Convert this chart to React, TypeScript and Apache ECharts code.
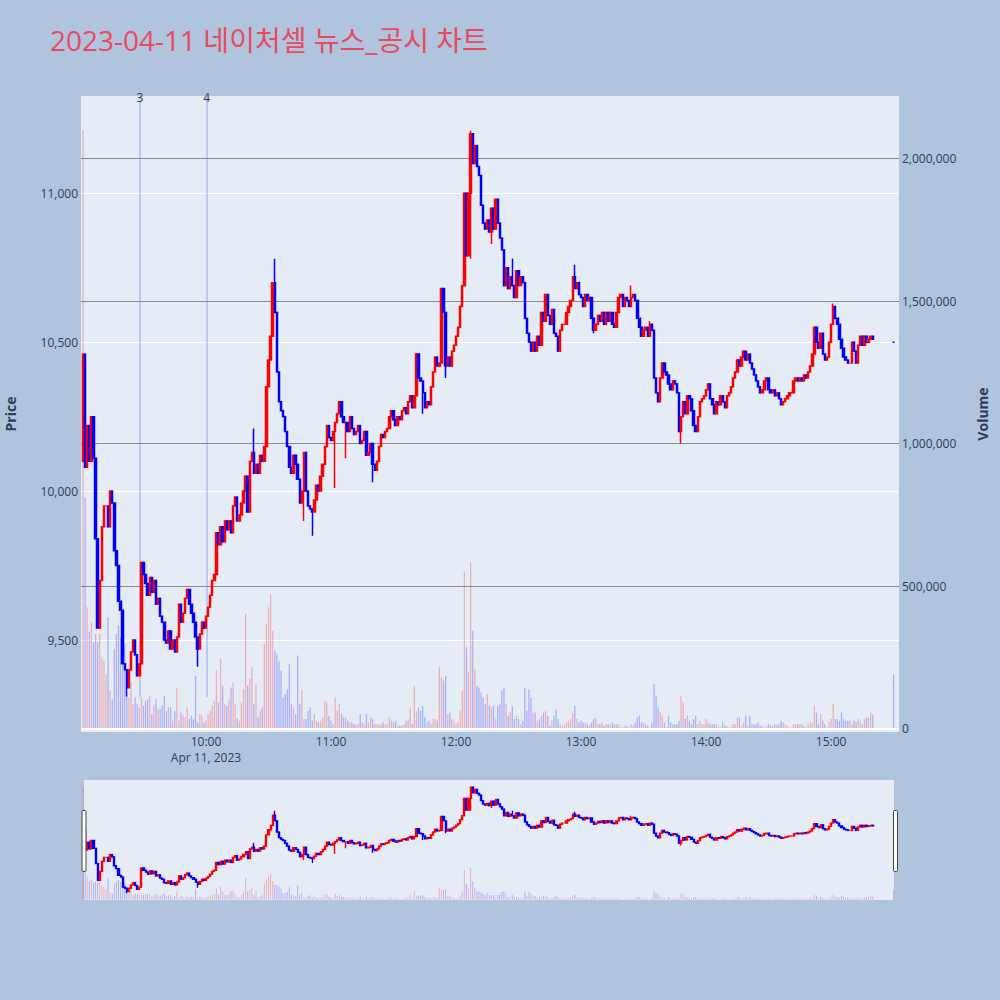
import React, { useEffect, useRef } from "react";
import * as echarts from "echarts";

const TITLE = "2023-04-11 네이처셀 뉴스_공시 차트";
const DATE_LABEL = "Apr 11, 2023";
const SESSION_START_HOUR = 9;

// first minute candle (09:01) opening price
const firstOpen = 10100;

// minute closes 09:01 .. 15:20
const closes = [
  10460, 10080, 10220, 10100, 10250, 10110, 9840, 9540, 9700, 9880,
  9950, 9950, 9880, 10000, 9960, 9800, 9750, 9630, 9600, 9420,
  9400, 9340, 9400, 9460, 9500, 9450, 9380, 9420, 9760, 9720,
  9690, 9650, 9710, 9660, 9700, 9620, 9640, 9580, 9560, 9500,
  9490, 9530, 9470, 9500, 9460, 9510, 9620, 9560, 9590, 9640,
  9670, 9620, 9590, 9560, 9510, 9470, 9520, 9560, 9540, 9580,
  9610, 9650, 9700, 9720, 9860, 9820, 9880, 9830, 9900, 9870,
  9900, 9860, 9950, 9980, 9900, 9920, 9960, 10000, 10050, 9930,
  10100, 10130, 10060, 10090, 10060, 10120, 10100, 10150, 10350, 10440,
  10520, 10700, 10600, 10400, 10300, 10270, 10250, 10200, 10150, 10080,
  10060, 10120, 10090, 10040, 9960, 10000, 10130, 10000, 9950, 9940,
  9930, 9970, 10020, 10000, 10050, 10090, 10150, 10220, 10180, 10170,
  10200, 10230, 10260, 10300, 10250, 10230, 10230, 10200, 10250, 10210,
  10190, 10200, 10220, 10160, 10170, 10200, 10120, 10130, 10160, 10090,
  10070, 10100, 10150, 10190, 10180, 10200, 10210, 10250, 10270, 10240,
  10220, 10250, 10240, 10270, 10280, 10260, 10300, 10320, 10280, 10320,
  10460, 10380, 10370, 10330, 10280, 10300, 10290, 10350, 10400, 10450,
  10420, 10430, 10680, 10600, 10420, 10450, 10420, 10470, 10490, 10520,
  10550, 10620, 10690, 11000, 10790, 11000, 11200, 11100, 11160, 11090,
  11060, 10960, 10900, 10880, 10910, 10870, 10950, 10880, 10980, 10900,
  10850, 10810, 10690, 10750, 10680, 10720, 10690, 10650, 10740, 10690,
  10720, 10700, 10580, 10530, 10500, 10470, 10500, 10470, 10520, 10490,
  10600, 10570, 10660, 10590, 10560, 10610, 10530, 10520, 10470, 10540,
  10560, 10560, 10600, 10620, 10640, 10720, 10680, 10700, 10660, 10650,
  10620, 10660, 10640, 10650, 10580, 10540, 10560, 10590, 10570, 10600,
  10560, 10600, 10570, 10600, 10560, 10550, 10600, 10650, 10660, 10620,
  10650, 10640, 10620, 10650, 10660, 10640, 10580, 10550, 10520, 10540,
  10550, 10520, 10560, 10540, 10380, 10330, 10300, 10380, 10430, 10400,
  10390, 10360, 10340, 10370, 10360, 10330, 10200, 10250, 10300, 10260,
  10320, 10310, 10270, 10220, 10200, 10250, 10300, 10310, 10320, 10340,
  10360, 10310, 10290, 10260, 10300, 10290, 10320, 10300, 10280, 10320,
  10330, 10350, 10380, 10400, 10440, 10420, 10450, 10470, 10440, 10460,
  10430, 10410, 10390, 10370, 10350, 10330, 10340, 10370, 10380, 10340,
  10330, 10340, 10320, 10330, 10310, 10290, 10300, 10310, 10320, 10330,
  10330, 10370, 10380, 10370, 10380, 10370, 10390, 10380, 10400, 10420,
  10460, 10550, 10500, 10480, 10530, 10460, 10440, 10450, 10500, 10560,
  10620, 10580, 10560, 10510, 10480, 10450, 10440, 10430, 10430, 10500,
  10470, 10430, 10490, 10520, 10490, 10520, 10500, 10510, 10520, 10510,
];

// minute volumes 09:01 .. 15:20
const volumes = [
  2100000, 811000, 426000, 339000, 374000, 303000, 333000, 303000, 333000, 251000,
  239000, 192000, 391000, 134000, 104000, 280000, 333000, 362000, 321000, 239000,
  298000, 122000, 110000, 163000, 87000, 110000, 87000, 75000, 110000, 81000,
  98000, 104000, 116000, 52000, 81000, 104000, 69000, 69000, 81000, 116000,
  63000, 75000, 75000, 28000, 63000, 145000, 28000, 57000, 46000, 40000,
  75000, 34000, 46000, 34000, 186000, 22000, 52000, 46000, 22000, 28000,
  52000, 63000, 81000, 98000, 204000, 92000, 245000, 151000, 87000, 81000,
  104000, 145000, 163000, 87000, 34000, 28000, 92000, 139000, 403000, 151000,
  175000, 216000, 87000, 157000, 40000, 63000, 75000, 298000, 368000, 426000,
  473000, 344000, 274000, 262000, 239000, 204000, 110000, 122000, 139000, 227000,
  87000, 75000, 52000, 257000, 87000, 139000, 34000, 34000, 63000, 75000,
  28000, 52000, 28000, 22000, 28000, 40000, 98000, 92000, 46000, 28000,
  16000, 110000, 63000, 87000, 52000, 40000, 40000, 28000, 22000, 22000,
  16000, 16000, 16000, 52000, 22000, 16000, 52000, 22000, 40000, 34000,
  16000, 16000, 16000, 16000, 22000, 16000, 16000, 40000, 28000, 22000,
  28000, 11000, 11000, 11000, 16000, 28000, 34000, 75000, 16000, 151000,
  63000, 75000, 63000, 81000, 40000, 22000, 28000, 16000, 34000, 34000,
  28000, 216000, 180000, 169000, 186000, 52000, 57000, 34000, 28000, 16000,
  22000, 63000, 134000, 550000, 286000, 198000, 585000, 344000, 210000, 151000,
  145000, 128000, 110000, 87000, 122000, 81000, 75000, 81000, 34000, 81000,
  87000, 134000, 145000, 87000, 46000, 57000, 81000, 34000, 46000, 34000,
  16000, 28000, 145000, 63000, 139000, 110000, 57000, 57000, 28000, 34000,
  46000, 57000, 63000, 46000, 11000, 28000, 46000, 69000, 34000, 16000,
  11000, 16000, 22000, 28000, 34000, 57000, 81000, 34000, 22000, 28000,
  22000, 22000, 16000, 11000, 22000, 34000, 40000, 16000, 16000, 22000,
  11000, 16000, 16000, 16000, 22000, 16000, 16000, 16000, 5000, 5000,
  11000, 11000, 5000, 16000, 11000, 22000, 40000, 46000, 22000, 22000,
  16000, 11000, 5000, 22000, 157000, 116000, 75000, 57000, 46000, 22000,
  5000, 46000, 22000, 16000, 16000, 16000, 28000, 116000, 92000, 34000,
  46000, 28000, 16000, 34000, 46000, 16000, 28000, 16000, 16000, 34000,
  22000, 16000, 16000, 16000, 16000, 5000, 5000, 22000, 11000, 11000,
  5000, 5000, 16000, 16000, 40000, 40000, 11000, 22000, 46000, 11000,
  46000, 16000, 16000, 16000, 22000, 11000, 11000, 5000, 11000, 16000,
  11000, 11000, 16000, 16000, 16000, 28000, 22000, 16000, 11000, 5000,
  5000, 16000, 16000, 16000, 16000, 16000, 11000, 5000, 16000, 22000,
  22000, 81000, 57000, 16000, 52000, 28000, 16000, 5000, 22000, 34000,
  87000, 34000, 34000, 28000, 57000, 34000, 28000, 28000, 28000, 16000,
  28000, 22000, 34000, 28000, 16000, 34000, 40000, 40000, 57000, 50000,
];

// closing auction (15:30)
const auctionMinute = 390;
const auctionPrice = 10500;
const auctionVolume = 190000;

// wick extremes: [minute, low, high]
const wicks: [number, number | null, number | null][] = [
  [22, 9310, null], [56, 9410, null], [83, null, 10210], [93, null, 10780],
  [107, 9900, null], [111, 9850, null], [122, 10010, null], [127, 10110, null],
  [140, 10030, null], [164, 10260, null], [175, 10380, null], [187, 10780, 11210],
  [197, 10830, null], [207, null, 10780], [237, null, 10760], [246, 10530, null],
  [264, null, 10690], [273, null, 10570], [288, 10160, null], [361, null, 10630],
];

// news / disclosure markers
const newsLabels = ["3", "4"];
const newsMinutes = [28.3, 60.3];

const FONT = '"Open Sans", "Noto Sans CJK KR", sans-serif';
const TEXT = "#2a3f5f";
const UP = "#ff0000";
const DOWN = "#0000ff";
const UP_VOL = "rgba(255,0,0,0.25)";
const DOWN_VOL = "rgba(0,0,255,0.25)";

const PRICE_MIN = 9191.1;
const PRICE_MAX = 11326.7;
const VOL_MIN = -11200;
const VOL_MAX = 2218800;

function buildData() {
  const candles: number[][] = [];
  const vols: any[] = [];
  const wickMap = new Map<number, [number | null, number | null]>();
  wicks.forEach(([m, lo, hi]) => wickMap.set(m, [lo, hi]));
  let prev = firstOpen;
  closes.forEach((c, i) => {
    const m = i + 1;
    const o = i === 0 ? firstOpen : prev;
    let lo = Math.min(o, c);
    let hi = Math.max(o, c);
    const w = wickMap.get(m);
    if (w) {
      if (w[0] != null) lo = Math.min(lo, w[0]);
      if (w[1] != null) hi = Math.max(hi, w[1]);
    }
    candles.push([m, o, c, lo, hi]);
    const up = c > o || (c === o && (i === 0 || c >= (closes[i - 1] ?? c)));
    vols.push({ value: [m, volumes[i]], itemStyle: { color: up ? UP_VOL : DOWN_VOL } });
    prev = c;
  });
  candles.push([auctionMinute, auctionPrice, auctionPrice, auctionPrice, auctionPrice]);
  vols.push({ value: [auctionMinute, auctionVolume], itemStyle: { color: DOWN_VOL } });
  return { candles, vols };
}

function timeLabel(v: number) {
  if (v <= 0 || v % 60 !== 0) return "";
  const h = SESSION_START_HOUR + Math.floor(v / 60);
  const mm = v % 60;
  const s = `${h}:${mm < 10 ? "0" + mm : mm}`;
  return v === 60 ? `${s}\n${DATE_LABEL}` : s;
}

function buildOption() {
  const { candles, vols } = buildData();
  const fmt = (v: number) => Math.round(v).toLocaleString("en-US");
  const candleStyle = {
    color: UP,
    color0: DOWN,
    borderColor: UP,
    borderColor0: DOWN,
  };
  return {
    animation: false,
    backgroundColor: "#b0c4de",
    textStyle: { fontFamily: FONT },
    title: {
      text: TITLE,
      left: 45,
      top: 21,
      textStyle: { color: "#e84a5f", fontSize: 28, fontWeight: "normal", fontFamily: FONT },
    },
    grid: [
      {
        left: 81, top: 96, width: 818, height: 636, show: true,
        backgroundColor: "#e5ecf6", borderWidth: 0, containLabel: false, outerBoundsMode: "none",
      },
      {
        left: 84, top: 780, width: 810, height: 120, show: true,
        backgroundColor: "#e5ecf6", borderWidth: 0, containLabel: false, outerBoundsMode: "none",
      },
    ],
    xAxis: [
      {
        type: "value", gridIndex: 0, min: 0, max: 392.6, interval: 60,
        axisLine: { show: false }, axisTick: { show: false }, splitLine: { show: false },
        axisLabel: {
          formatter: timeLabel, color: TEXT, fontSize: 12, fontFamily: FONT,
          margin: 1, lineHeight: 16, showMinLabel: false, showMaxLabel: false,
        },
      },
      { type: "value", gridIndex: 1, min: 1.44, max: 390.2, show: false },
    ],
    yAxis: [
      {
        type: "value", gridIndex: 0, position: "left", min: PRICE_MIN, max: PRICE_MAX,
        axisLine: { show: false }, axisTick: { show: false },
        splitLine: { show: true, showMinLine: false, showMaxLine: false, lineStyle: { color: "#ffffff", width: 1 } },
        axisLabel: {
          formatter: fmt, color: TEXT, fontSize: 12, fontFamily: FONT, margin: 3,
          showMinLabel: false, showMaxLabel: false,
        },
        name: "Price", nameLocation: "middle", nameGap: 64,
        nameTextStyle: { color: TEXT, fontSize: 14, fontWeight: "bold", fontFamily: FONT },
      },
      {
        type: "value", gridIndex: 0, position: "right", min: VOL_MIN, max: VOL_MAX,
        axisLine: { show: false }, axisTick: { show: false },
        splitLine: { show: true, showMinLine: false, showMaxLine: false, lineStyle: { color: "#8a8a8a", width: 1 } },
        axisLabel: {
          formatter: fmt, color: TEXT, fontSize: 12, fontFamily: FONT, margin: 3,
          showMinLabel: false, showMaxLabel: false,
        },
        name: "Volume", nameLocation: "middle", nameGap: 76,
        nameTextStyle: { color: TEXT, fontSize: 14, fontWeight: "bold", fontFamily: FONT },
      },
      { type: "value", gridIndex: 1, min: PRICE_MIN, max: PRICE_MAX, show: false, splitLine: { show: false } },
      { type: "value", gridIndex: 1, min: VOL_MIN, max: VOL_MAX, show: false, splitLine: { show: false } },
    ],
    series: [
      {
        type: "bar", name: "Volume", xAxisIndex: 0, yAxisIndex: 1, data: vols,
        barWidth: 1.3, z: 2, silent: true,
        markLine: {
          silent: true, symbol: ["none", "none"], z: 4,
          data: [
            {
              yAxis: 0, lineStyle: { color: "#ffffff", width: 2, type: "solid" }, label: { show: false },
            },
            ...newsLabels.map((lab, i) => [
              {
                coord: [newsMinutes[i], 111500], name: lab,
                lineStyle: { color: "rgba(110,130,250,0.45)", width: 1.5, type: "solid" },
                label: {
                  show: true, position: "end", formatter: "{b}", color: TEXT,
                  fontSize: 12, fontFamily: FONT, distance: -7,
                },
              },
              { coord: [newsMinutes[i], VOL_MAX] },
            ]),
          ],
        },
      },
      {
        type: "candlestick", name: "Price", xAxisIndex: 0, yAxisIndex: 0, data: candles,
        barWidth: 1.9, z: 10, silent: true,
        itemStyle: { ...candleStyle, borderWidth: 1.5 },
      },
      {
        type: "bar", xAxisIndex: 1, yAxisIndex: 3, data: vols,
        barWidth: 1, z: 2, silent: true,
      },
      {
        type: "candlestick", xAxisIndex: 1, yAxisIndex: 2, data: candles,
        barWidth: 1.6, z: 10, silent: true,
        itemStyle: { ...candleStyle, borderWidth: 1.4 },
      },
    ],
    graphic: [
      {
        type: "rect", left: 81.5, top: 810, z: 100,
        shape: { width: 4, height: 61, r: 1 },
        style: { fill: "#ffffff", stroke: "#444444", lineWidth: 1 },
      },
      {
        type: "rect", left: 893, top: 810, z: 100,
        shape: { width: 4, height: 61, r: 1 },
        style: { fill: "#ffffff", stroke: "#444444", lineWidth: 1 },
      },
    ],
  };
}

export default function App() {
  const ref = useRef<HTMLDivElement>(null);
  useEffect(() => {
    if (!ref.current) return;
    const chart = echarts.init(ref.current, null, { renderer: "svg" });
    chart.setOption(buildOption() as any);
    return () => chart.dispose();
  }, []);
  return (
    <div
      ref={ref}
      style={{ position: "fixed", left: 0, top: 0, width: 1000, height: 1000 }}
    />
  );
}
